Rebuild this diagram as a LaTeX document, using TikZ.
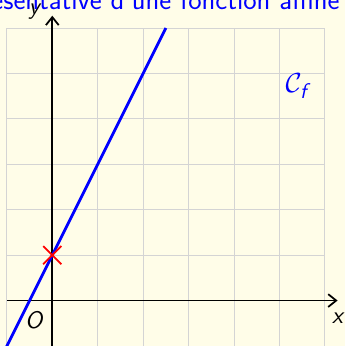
\documentclass[tikz,border=0pt]{standalone}
\usepackage{amsmath}
\usetikzlibrary{arrows.meta,calc}
\definecolor{bgcream}{HTML}{FFFDE8}
\definecolor{gridgray}{HTML}{D4D4D4}
\begin{document}
\begin{tikzpicture}[
  gridline/.style={draw=gridgray, line width=0.6pt},
  axisline/.style={draw=black, line width=1.1pt, -{Straight Barb[length=5pt,width=8pt]}},
  curveline/.style={draw=blue, line width=1.8pt},
  crossline/.style={draw=red, line width=1.1pt},
  lbl/.style={font=\fontsize{15}{18}\selectfont\sffamily\itshape, inner sep=1pt},
]
\fill[bgcream] (-1.151,-1.0) rectangle (6.44,6.616);
\useasboundingbox (-1.151,-1.0) rectangle (6.44,6.616);
\draw[gridline] (-1,-1) grid (6,6);
\coordinate (xs) at (-1,0);
\coordinate (xe) at (6.28,0);
\coordinate (ys) at (0,-1.1);
\coordinate (ye) at (0,6.27);
\draw[axisline] (xs) -- (xe);
\draw[axisline] (ys) -- (ye);
\coordinate (p1) at (-1.05,-1.1);
\coordinate (p2) at (2.5,6);
\draw[curveline] (p1) -- (p2);
\coordinate (A) at (0,1);
\draw[crossline] ($(A)+(-0.2,-0.2)$) -- ($(A)+(0.2,0.2)$);
\draw[crossline] ($(A)+(-0.2,0.2)$) -- ($(A)+(0.2,-0.2)$);
\node[lbl] (xl) at (6.28,-0.38) {x};
\node[lbl] (yl) at (-0.4,6.36) {y};
\node[lbl] (ol) at (-0.41,-0.44) {O};
\node[text=blue, font=\fontsize{19}{22}\selectfont] (cf) at (5.42,4.72) {$\mathcal{C}_{\textsf{\textit{f}}}$};
\node[text=blue, font=\fontsize{17.8}{20}\selectfont\sffamily, anchor=base east, inner sep=0pt] (title) at (6.33,6.41) {Courbe représentative d'une fonction affine};
\end{tikzpicture}
\end{document}
